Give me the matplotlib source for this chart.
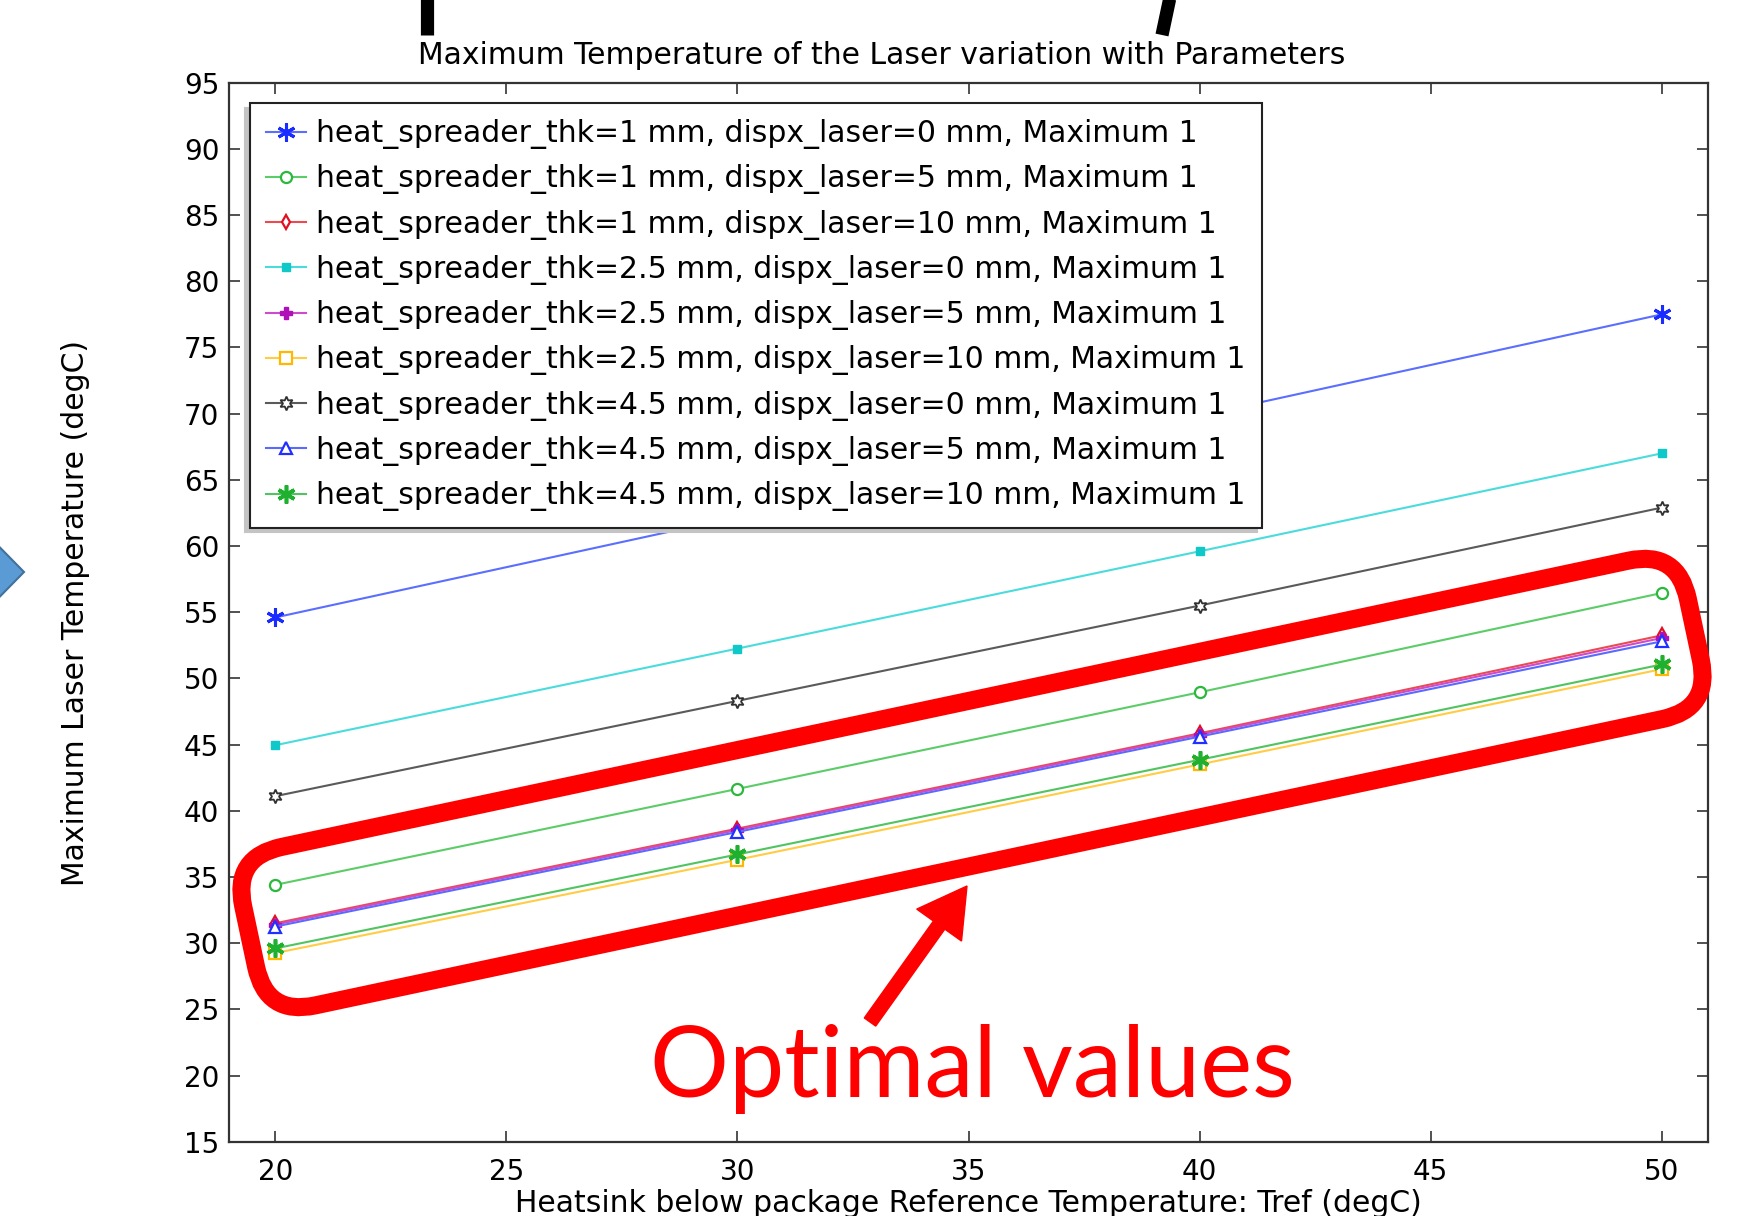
"""
  Maximum laser temperature vs heatsink reference temperature (slide with annotations).
"""

import numpy as np
import matplotlib.pyplot as plt
from matplotlib.patches import FancyBboxPatch, FancyArrow, Polygon
from matplotlib.lines import Line2D
from matplotlib.transforms import Affine2D

plt.rcParams['font.family'] = ['DejaVu Sans']

W, H = 1742, 1216

# Datos
tref = [20, 30, 40, 50]

t_1_0 = [54.6, 62.2, 69.85, 77.5]
t_1_5 = [34.4, 41.65, 48.95, 56.45]
t_1_10 = [31.5, 38.65, 45.85, 53.25]
t_25_0 = [44.95, 52.25, 59.6, 67.0]
t_25_5 = [31.4, 38.55, 45.75, 53.05]
t_25_10 = [29.25, 36.3, 43.5, 50.7]
t_45_0 = [41.1, 48.3, 55.5, 62.9]
t_45_5 = [31.25, 38.4, 45.6, 52.8]
t_45_10 = [29.6, 36.7, 43.85, 51.05]

labels = [
    'heat_spreader_thk=1 mm, dispx_laser=0 mm, Maximum 1',
    'heat_spreader_thk=1 mm, dispx_laser=5 mm, Maximum 1',
    'heat_spreader_thk=1 mm, dispx_laser=10 mm, Maximum 1',
    'heat_spreader_thk=2.5 mm, dispx_laser=0 mm, Maximum 1',
    'heat_spreader_thk=2.5 mm, dispx_laser=5 mm, Maximum 1',
    'heat_spreader_thk=2.5 mm, dispx_laser=10 mm, Maximum 1',
    'heat_spreader_thk=4.5 mm, dispx_laser=0 mm, Maximum 1',
    'heat_spreader_thk=4.5 mm, dispx_laser=5 mm, Maximum 1',
    'heat_spreader_thk=4.5 mm, dispx_laser=10 mm, Maximum 1',
]
series = [t_1_0, t_1_5, t_1_10, t_25_0, t_25_5, t_25_10, t_45_0, t_45_5, t_45_10]

# color de linea, color de marcador, marcador, tamano, relleno, grosor borde
styles = [
    ('#5a6eff', '#1a2cff', (6, 2, 0), 13, '#1a2cff', 2.2),
    ('#5ccc68', '#2cb83c', 'o', 8, 'white', 1.6),
    ('#ea4a50', '#e01020', 'd', 7, 'white', 1.6),
    ('#4adcdc', '#10c8c8', 's', 6, '#10c8c8', 1.0),
    ('#cc4ccc', '#b010b8', 'P', 9, '#b010b8', 1.0),
    ('#ffcc44', '#ffb800', 's', 8, 'white', 1.6),
    ('#5a5a5a', '#303030', (6, 1, 0), 10, 'white', 1.3),
    ('#5a6aff', '#2030ff', '^', 8, 'white', 1.6),
    ('#50c460', '#20b030', (6, 2, 0), 13, '#20b030', 2.6),
]

fig = plt.figure(figsize=(W / 100, H / 100), dpi=100)
ax = fig.add_axes([229 / W, 1 - 1141.7 / H, (1708 - 229) / W, (1141.7 - 82.7) / H])

for vals, lab, (lc, mc, mk, ms, mf, mw) in zip(series, labels, styles):
    ax.plot(tref, vals, color=lc, lw=1.5, marker=mk, ms=ms, mec=mc, mfc=mf,
            mew=mw, label=lab)

ax.set_xlim(19, 51)
ax.set_ylim(15, 95)
ax.set_xticks(np.arange(20, 51, 5))
ax.set_yticks(np.arange(15, 96, 5))
for s in ax.spines.values():
    s.set_color('#333333')
    s.set_linewidth(1.6)
ax.tick_params(direction='in', top=True, right=True, length=8, width=1.2,
               color='#333333', labelsize=20)
ax.tick_params(axis='x', pad=12)
ax.tick_params(axis='y', pad=7)

leg = ax.legend(loc='upper left', bbox_to_anchor=(0.0142, 0.981),
                borderaxespad=0, fontsize=21.5, fancybox=False,
                edgecolor='#222222', framealpha=1, handlelength=1.32,
                handletextpad=0.35, labelspacing=0.51, borderpad=0.55,
                shadow={'ox': -3.5, 'oy': -3.5, 'facecolor': '#c4c4c4',
                        'edgecolor': '#c4c4c4', 'alpha': 1})
leg.get_frame().set_linewidth(1.5)
leg.set_zorder(5)

fig.text(882 / W, 1 - 56 / H, 'Maximum Temperature of the Laser variation with Parameters',
         ha='center', va='center', fontsize=21.5)
fig.text(76 / W, 1 - 613 / H, 'Maximum Laser Temperature (degC)', rotation=90,
         ha='center', va='center', fontsize=21.5)
fig.text(968 / W, 1 - 1203 / H, 'Heatsink below package Reference Temperature: Tref (degC)',
         ha='center', va='center', fontsize=21.5)

# Anotaciones de la diapositiva (en pulgadas desde abajo-izquierda)
inch = fig.dpi_scale_trans
box_len, box_h = 1477 / 100, 162 / 100
cx, cy = 972 / 100, (H - 783) / 100
box = FancyBboxPatch((-box_len / 2, -box_h / 2), box_len, box_h,
                     boxstyle='round,pad=0,rounding_size=0.5',
                     fc='none', ec='#ff0000', lw=13,
                     transform=Affine2D().rotate_deg(12).translate(cx, cy) + inch)
fig.add_artist(box)

arr = FancyArrow(8.70, (H - 1022) / 100, 0.97, 1.36, width=0.14, head_width=0.55,
                 head_length=0.48, length_includes_head=True, fc='#ff0000',
                 ec='#ff0000', transform=inch)
fig.add_artist(arr)

fig.text(650 / W, 1 - 1097 / H, 'Optimal values', color='#ff0000',
         fontsize=71, family='Lato', ha='left', va='baseline')

tri = Polygon([(-0.3, (H - 517) / 100), (0.24, (H - 572) / 100), (-0.3, (H - 627) / 100)],
              closed=True, fc='#5b9bd5', ec='#41719c', lw=1.5, transform=inch)
fig.add_artist(tri)

# restos del titulo grande recortado
fig.add_artist(Line2D([427 / W, 427 / W], [1.01, 1 - 35 / H], color='black',
                      lw=9.5, solid_capstyle='butt'))
fig.add_artist(Line2D([1172 / W, 1162 / W], [1.01, 1 - 35 / H], color='black',
                      lw=9.5, solid_capstyle='butt'))

plt.savefig('out.png', dpi=100)
